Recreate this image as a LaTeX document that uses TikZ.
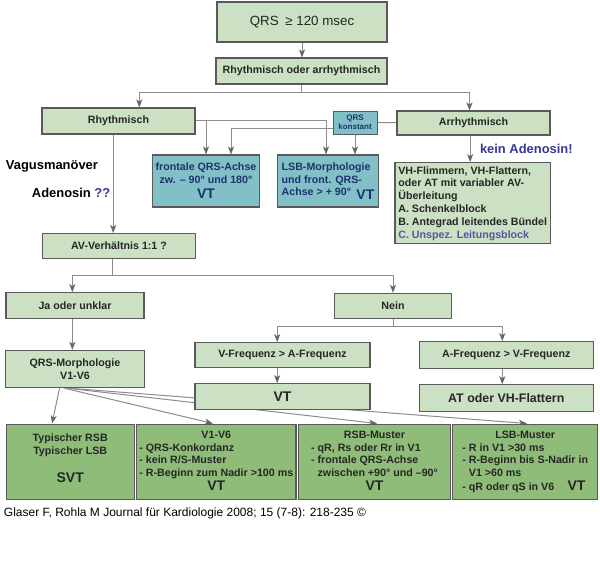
\documentclass[tikz,border=0pt]{standalone}
\usepackage{fontspec}
\setmainfont{Liberation Sans}
\usetikzlibrary{arrows.meta, positioning, backgrounds}

\definecolor{boxgreen}{RGB}{204,224,196}
\definecolor{boxteal}{RGB}{130,192,200}
\definecolor{outgreen}{RGB}{143,189,121}
\definecolor{boxline}{RGB}{90,90,90}
\definecolor{linegray}{RGB}{140,140,140}
\definecolor{notenavy}{RGB}{55,55,150}
\definecolor{tealtext}{RGB}{30,50,110}

\begin{document}
\begin{tikzpicture}[
            x=0.75pt, y=-0.75pt,
            every node/.style={font=\bfseries\fontsize{8}{9.6}\selectfont, align=center, inner sep=2pt},
            box/.style={draw=boxline, line width=0.8pt, fill=boxgreen, text=black!85, minimum width=114.75pt, minimum height=19.5pt},
            tealbox/.style={box, fill=boxteal, text=tealtext, minimum width=75.5pt, minimum height=39pt},
            outbox/.style={box, fill=outgreen, minimum height=56.5pt, inner xsep=1.5pt},
            bigtext/.style={font=\bfseries\fontsize{10.5}{12}\selectfont},
            note/.style={font=\bfseries\fontsize{9.7}{11}\selectfont},
            arrow/.style={-{Stealth[length=6pt, width=4.5pt, inset=1.5pt, color=black!60]}, draw=linegray, line width=0.75pt},
            link/.style={draw=linegray, line width=0.75pt}
        ]
        \useasboundingbox (0,0) rectangle (600,563);

        % Nodes
        \node[box, font=\fontsize{10}{12}\selectfont, minimum width=127.5pt, minimum height=30pt] (qrs) at (302,22) {QRS\enspace≥ 120 msec};
        \node[box, minimum width=128.25pt] (rora) at (301.5,71) {Rhythmisch oder arrhythmisch};
        \node[box] (rhy) at (118.5,121) {Rhythmisch};
        \node[box, minimum height=18pt] (arrhy) at (473.5,123) {Arrhythmisch};
        \node[box, fill=boxteal, text=tealtext, line width=0.6pt, minimum width=33pt, minimum height=17.25pt, inner sep=1pt, font=\bfseries\fontsize{6}{7}\selectfont] (konst) at (355,122.5) {QRS\\konstant};

        \node[tealbox] (front) at (206,181) {frontale QRS-Achse\\zw. – 90° und 180°\\[2pt]{\fontsize{10.5}{12}\selectfont VT}};
        \node[tealbox, align=left] (lsb) at (328,181) {LSB-Morphologie\\und front. QRS-\\Achse > + 90°\hspace{4pt}\raisebox{-2.5pt}{\fontsize{10.5}{12}\selectfont VT}};
        \node[box, align=left, minimum width=114pt, minimum height=61pt, inner xsep=2.5pt] (vhf) at (472.7,203.3) {VH-Flimmern, VH-Flattern,\\oder AT mit variabler AV-\\Überleitung\\A. Schenkelblock\\B. Antegrad leitendes Bündel\\\textcolor{notenavy!85}{C. Unspez. Leitungsblock}};

        \node[note, anchor=west] (vagus) at (3,166.7) {Vagusmanöver};
        \node[note, anchor=west] (adeno) at (29,193.3) {Adenosin \textcolor{notenavy}{??}};

        \node[box, minimum height=18.75pt] (av) at (119,246) {AV-Verhältnis 1:1 ?};
        \node[box, minimum width=103.5pt, minimum height=19.2pt] (ja) at (75,305.5) {Ja oder unklar};
        \node[box, minimum width=87.5pt, minimum height=19pt] (nein) at (393,306) {Nein};
        \node[box, below=23.25pt of ja, minimum width=104pt, minimum height=28pt] (morph) {QRS-Morphologie\\V1-V6};

        \node[box, minimum width=131.25pt, minimum height=18.5pt] (vfreq) at (282.5,355) {V-Frequenz > A-Frequenz};
        \node[box, minimum width=130.5pt, minimum height=20pt] (afreq) at (506.3,355) {A-Frequenz > V-Frequenz};
        \node[box, bigtext, below=11.5pt of vfreq, minimum width=131.25pt, minimum height=19.2pt] (vt) {VT};
        \node[box, bigtext, below=11.5pt of afreq, minimum width=130.5pt, minimum height=20pt, font=\bfseries\fontsize{9.3}{11}\selectfont] (at) {AT oder VH-Flattern};

        % Outcome boxes
        \node[outbox, minimum width=96.2pt] (svt) at (70.2,461.7) {Typischer RSB\\Typischer LSB\\[11.3pt]{\fontsize{10.5}{12}\selectfont SVT}\\[-7.6pt]\strut};
        \node[outbox, minimum width=119.5pt] (v16) at (216.3,461.7) {\begin{tabular}{@{}l@{}}
            \multicolumn{1}{@{}c@{}}{V1-V6}\\
            - QRS-Konkordanz\\
            - kein R/S-Muster\\
            - R-Beginn zum Nadir >100 ms\\
            \multicolumn{1}{@{}c@{}}{\fontsize{10.5}{12}\selectfont VT}
        \end{tabular}};
        \node[outbox, minimum width=114.3pt] (rsb) at (374.5,461.7) {\begin{tabular}{@{}l@{}}
            \multicolumn{1}{@{}c@{}}{RSB-Muster}\\
            - qR, Rs oder Rr in V1\\
            - frontale QRS-Achse\\
            \phantom{- }zwischen +90° und –90°\\
            \multicolumn{1}{@{}c@{}}{\fontsize{10.5}{12}\selectfont VT}
        \end{tabular}};
        \node[outbox, minimum width=108.75pt] (lsbm) at (525.2,461.7) {\begin{tabular}{@{}l@{}}
            \multicolumn{1}{@{}c@{}}{LSB-Muster}\\
            - R in V1 >30 ms\\
            - R-Beginn bis S-Nadir in\\
            \phantom{- }V1 >60 ms\\
            - qR oder qS in V6\hspace{10pt}{\fontsize{10.5}{12}\selectfont VT}
        \end{tabular}};

        \node[anchor=west, font=\fontsize{9}{11}\selectfont] (cite) at (1,513) {Glaser F, Rohla M Journal für Kardiologie 2008; 15 (7-8): 218-235 ©};

        % Connections
        \begin{scope}[on background layer]
        \draw[arrow] (qrs.south) -- (qrs.south |- rora.north);
        \draw[arrow] (rora.south) -- ++(0,8) -| ([xshift=15.6pt]rhy.north);
        \draw[arrow] (rora.south) -- ++(0,8) -| ([xshift=-3pt]arrhy.north);

        \draw[arrow] (rhy.east) -| ([xshift=-1.5pt]lsb.north);
        \draw[arrow] (rhy.east -| front.north) -- (front.north);
        \draw[arrow] ([yshift=-4.3pt]konst.west) -| ([xshift=18.75pt]front.north);
        \draw[arrow] (konst.south) -- (konst.south |- lsb.north);
        \draw[link] (konst) -- (arrhy);
        \draw[arrow] ([xshift=-2.5pt]arrhy.south) -- node[note, right=5pt, text=notenavy] (kein) {kein Adenosin!} ([xshift=-2.5pt]arrhy.south |- vhf.north);

        \draw[arrow] ([xshift=-4pt]rhy.south) -- ([xshift=-4pt]rhy.south |- av.north);
        \draw[arrow] ([xshift=-5pt]av.south) -- ++(0,16.7) -| ([xshift=-2pt]ja.north);
        \draw[arrow] ([xshift=-5pt]av.south) -- ++(0,16.7) -| (nein.north);
        \draw[arrow] ([xshift=-2pt]ja.south) -- ([xshift=-2pt]ja.south |- morph.north);

        \draw[arrow] (nein.south) -- ++(0,7.7) -| ([xshift=-4pt]vfreq.north);
        \draw[arrow] (nein.south) -- ++(0,7.7) -| ([xshift=-3pt]afreq.north);
        \draw[arrow] ([xshift=-4pt]vfreq.south) -- ([xshift=-4pt]vt.north);
        \draw[arrow] ([xshift=-3pt]afreq.south) -- ([xshift=-3pt]at.north);

        % fan out from the morphology box
        \draw[arrow] ([xshift=-11.6pt]morph.south) -- ([xshift=-13.6pt]svt.north);
        \draw[arrow] ([xshift=-7.9pt]morph.south) -- ([xshift=-2.5pt]v16.north);
        \draw[arrow] ([xshift=-5.6pt]morph.south) -- ([xshift=1.9pt]rsb.north);
        \draw[arrow] ([xshift=-4.1pt]morph.south) -- ([xshift=1.3pt]lsbm.north);
        \end{scope}

    \end{tikzpicture}
\end{document}
